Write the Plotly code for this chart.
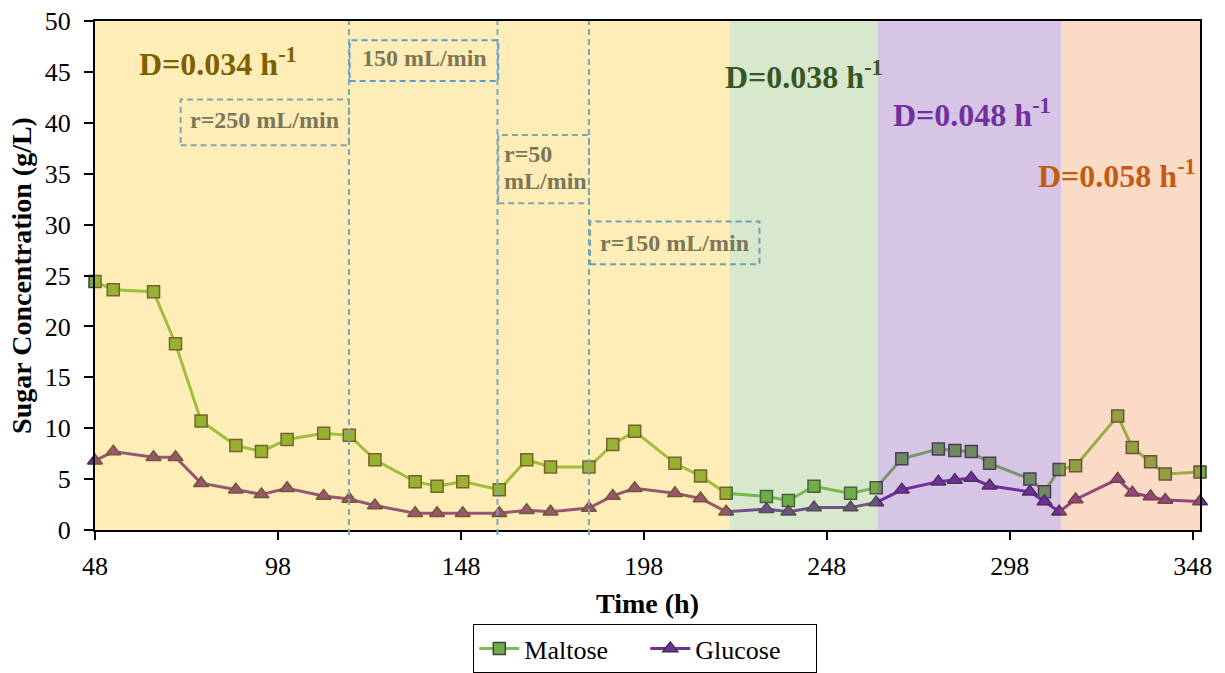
import plotly.graph_objects as go

# ---------------- data ----------------
time_h = [48, 53, 64, 70, 77, 86.5, 93.5, 100.5, 110.5, 117.5, 124.5, 135.5, 141.5, 148.5,
          158.5, 166, 172.5, 183, 189.5, 195.5, 206.5, 213.5, 220.5, 231.5, 237.5, 244.5,
          254.5, 261.5, 268.5, 278.5, 283, 287.5, 292.5, 303.5, 307.5, 311.5, 316, 327.5,
          331.5, 336.5, 340.5, 350]
maltose = [24.4, 23.6, 23.4, 18.3, 10.7, 8.3, 7.7, 8.9, 9.5, 9.3, 6.9, 4.75, 4.3, 4.75,
           3.95, 6.9, 6.2, 6.2, 8.4, 9.7, 6.55, 5.3, 3.6, 3.3, 2.9, 4.3, 3.6, 4.15, 7.0,
           7.95, 7.8, 7.7, 6.55, 5.0, 3.75, 5.95, 6.3, 11.2, 8.1, 6.7, 5.5, 5.7]
glucose = [6.8, 7.7, 7.15, 7.15, 4.6, 3.95, 3.5, 4.1, 3.35, 3.05, 2.4, 1.65, 1.65, 1.65,
           1.65, 1.95, 1.8, 2.15, 3.35, 4.1, 3.6, 3.1, 1.8, 2.05, 1.8, 2.2, 2.2, 2.7, 3.95,
           4.75, 4.9, 5.1, 4.35, 3.75, 2.8, 1.8, 3.0, 5.0, 3.65, 3.3, 2.95, 2.8]

# dilution-rate periods
period_start = [48, 221.4, 261.9, 312.0]
period_end = [221.4, 261.9, 312.0, 350]
period_label = ["D=0.034 h<sup>-1</sup>", "D=0.038 h<sup>-1</sup>",
                "D=0.048 h<sup>-1</sup>", "D=0.058 h<sup>-1</sup>"]
period_fill = ["#FFC000", "#70AD47", "#7030A0", "#ED7D31"]
period_text_color = ["#7F6000", "#375623", "#7030A0", "#C55A11"]
period_label_x = [59.6, 219.7, 265.5, 305.3]
period_label_y = [46.0, 44.7, 41.0, 35.0]

# recirculation-rate changes
rate_change_time = [117.4, 158.0, 183.0]

x_ticks = [48, 98, 148, 198, 248, 298, 348]
y_ticks = [0, 5, 10, 15, 20, 25, 30, 35, 40, 45, 50]

FONT = "Liberation Serif, Times New Roman, serif"

fig = go.Figure()

fig.add_trace(go.Scatter(
    x=time_h, y=maltose, name="Maltose", mode="lines+markers", cliponaxis=False,
    line=dict(color="#7CBE50", width=3),
    marker=dict(symbol="square", size=12, color="#70AD47",
                line=dict(color="#404040", width=1.5))))
fig.add_trace(go.Scatter(
    x=time_h, y=glucose, name="Glucose", mode="lines+markers", cliponaxis=False,
    line=dict(color="#7030A0", width=3),
    marker=dict(symbol="triangle-up", size=13, color="#7030A0",
                line=dict(color="#403040", width=1.5))))

shapes = []
for s, e, c in zip(period_start, period_end, period_fill):
    shapes.append(dict(type="rect", xref="x", yref="y", x0=s, x1=e, y0=0, y1=50,
                       fillcolor=c, opacity=0.28, line=dict(width=0), layer="above"))

line_cols = ["#7FA6AE", "#78A8CC", "#7FA6AE"]
for t, c in zip(rate_change_time, line_cols):
    shapes.append(dict(type="line", xref="x", yref="paper", x0=t, x1=t, y0=-0.01, y1=1.0,
                       line=dict(color=c, width=2, dash="6px,4px"), layer="above"))

# dashed boxes (x0, x1, y0, y1, color)
boxes = [
    (71.4, 117.4, 37.8, 42.3, "#7FA6AE"),
    (117.6, 158.2, 44.1, 48.1, "#5B9BD5"),
    (158.2, 183.0, 32.1, 38.8, "#7FA6AE"),
    (183.3, 229.6, 26.1, 30.3, "#6FA2B4"),
]
for x0, x1, y0, y1, c in boxes:
    shapes.append(dict(type="rect", xref="x", yref="y", x0=x0, x1=x1, y0=y0, y1=y1,
                       line=dict(color=c, width=2, dash="6px,4px"),
                       fillcolor="rgba(0,0,0,0)", layer="above"))

annotations = []
for lab, xx, yy, col in zip(period_label, period_label_x, period_label_y, period_text_color):
    annotations.append(dict(x=xx, y=yy, xref="x", yref="y", text="<b>" + lab + "</b>",
                            showarrow=False, xanchor="left", yanchor="middle",
                            font=dict(family=FONT, size=32, color=col)))

box_text = ["r=250 mL/min", "150 mL/min", "r=50", "mL/min", "r=150 mL/min"]
box_text_x = [94.3, 138.0, 159.3, 159.3, 206.5]
box_text_y = [40.3, 46.4, 36.9, 34.3, 28.2]
box_text_anchor = ["center", "center", "left", "left", "center"]
for t, xx, yy, a in zip(box_text, box_text_x, box_text_y, box_text_anchor):
    annotations.append(dict(x=xx, y=yy, xref="x", yref="y", text="<b>" + t + "</b>",
                            showarrow=False, xanchor=a, yanchor="middle",
                            font=dict(family=FONT, size=24, color="#7B7656")))

fig.update_layout(
    width=1225, height=673,
    margin=dict(l=95, r=25, t=21, b=143, autoexpand=False),
    paper_bgcolor="white", plot_bgcolor="white",
    font=dict(family=FONT, color="black"),
    shapes=shapes, annotations=annotations,
    showlegend=True,
    legend=dict(orientation="h", x=0.498, xanchor="center", y=-0.1847, yanchor="top",
                bordercolor="black", borderwidth=1, bgcolor="white",
                entrywidth=116, itemwidth=40,
                font=dict(family=FONT, size=26, color="black")),
    xaxis=dict(range=[48, 350], tickvals=x_ticks, ticktext=[str(v) for v in x_ticks],
               showgrid=False, zeroline=False, showline=True, linecolor="black",
               linewidth=2, mirror=True, ticks="outside", ticklen=8, tickwidth=2,
               tickcolor="black", ticklabelstandoff=4, automargin=False,
               tickfont=dict(family=FONT, size=26, color="black"),
               title=dict(text="<b>Time (h)</b>", font=dict(family=FONT, size=28),
                          standoff=13)),
    yaxis=dict(range=[0, 50], tickvals=y_ticks, showgrid=False, zeroline=False,
               showline=True, linecolor="black", linewidth=2, mirror=True,
               ticks="outside", ticklen=9, tickwidth=2, tickcolor="black",
               ticklabelstandoff=8, automargin=False,
               tickfont=dict(family=FONT, size=26, color="black"),
               title=dict(text="<b>Sugar Concentration (g/L)</b>",
                          font=dict(family=FONT, size=28), standoff=5)),
)

fig.write_html("out.html")
